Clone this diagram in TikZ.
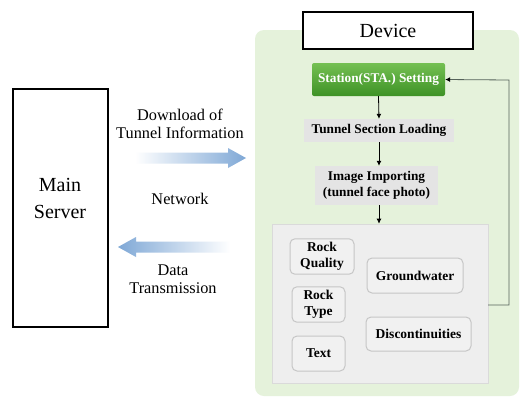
\documentclass[tikz,border=0pt]{standalone}
\usepackage{fontspec}
\setmainfont{Liberation Serif}
\usetikzlibrary{arrows.meta}
\definecolor{panelgreen}{HTML}{E5F2DB}
\definecolor{stalight}{HTML}{74C052}
\definecolor{stadark}{HTML}{3E9226}
\definecolor{stepgray}{HTML}{E4E4E4}
\definecolor{groupgray}{HTML}{EEEEEE}
\definecolor{groupedge}{HTML}{DADADA}
\definecolor{itemfill}{HTML}{F1F1F1}
\definecolor{itemedge}{HTML}{C6C6C6}
\definecolor{flowblue}{HTML}{7FA8D6}
\definecolor{loopline}{HTML}{55625A}
\tikzset{
  bigbox/.style={draw, line width=1.3pt, fill=white},
  bigtext/.style={font=\fontsize{20}{27}\selectfont, align=center},
  sidetext/.style={font=\fontsize{16.3}{18}\selectfont, align=center},
  stasty/.style={rounded corners=2pt, top color=stalight, bottom color=stadark,
    text=white, font=\bfseries\fontsize{13.3}{15}\selectfont},
  stepbox/.style={fill=stepgray, font=\bfseries\fontsize{13.3}{15.5}\selectfont, align=center},
  itembox/.style={draw=itemedge, line width=1pt, fill=itemfill, rounded corners=5pt,
    font=\bfseries\fontsize{13.5}{16.5}\selectfont, align=center},
  flow/.style={-{Latex[length=5pt,width=5pt,color=black]}, line width=0.8pt},
}
\begin{document}
\begin{tikzpicture}[x=1pt,y=-1pt]
\useasboundingbox (0,0) rectangle (520,397);
\fill[white] (0,0) rectangle (520,397);

% device panel
\fill[panelgreen, rounded corners=9pt] (255,30) rectangle (519,396);

% main server
\node[bigbox, minimum width=95pt, minimum height=238pt] (server) at (60.5,208) {};
\node[bigtext] (servertext) at (60,198) {Main\\Server};

% device title
\node[bigbox, bigtext, minimum width=170pt, minimum height=37pt] (device) at (388,30.5) {Device};

% network arrows
\shade[left color=white, right color=flowblue]
  (135,152.5) -- (228,152.5) -- (228,148) -- (246,158) -- (228,168) -- (228,163.5) -- (135,163.5) -- cycle;
\shade[left color=flowblue, right color=white]
  (230,241.5) -- (136,241.5) -- (136,237) -- (118,247) -- (136,257) -- (136,252.5) -- (230,252.5) -- cycle;
\node[sidetext] (download) at (180,123.5) {Download of\\Tunnel Information};
\node[sidetext] (network) at (180,199) {Network};
\node[sidetext] (transmit) at (173,279.5) {Data\\Transmission};

% workflow steps
\node[stasty, minimum width=133pt, minimum height=33pt] (sta) at (378.5,79.5) {Station(STA.) Setting};
\node[stepbox, minimum width=150pt, minimum height=23pt] (tunnel) at (379,130.5) {Tunnel Section Loading};
\node[stepbox, minimum width=123pt, minimum height=39pt] (image) at (376.5,185.5) {Image Importing\\(tunnel face photo)};

% results group
\node[draw=groupedge, fill=groupgray, line width=0.6pt, minimum width=216pt, minimum height=159pt] (group) at (380,303.5) {};
\node[itembox, minimum width=64pt, minimum height=35pt] (quality) at (322,256.5) {Rock\\Quality};
\node[itembox, minimum width=53pt, minimum height=35pt] (rtype) at (318.5,304.5) {Rock\\Type};
\node[itembox, minimum width=53pt, minimum height=35pt] (text) at (318.5,353.5) {Text};
\node[itembox, minimum width=96pt, minimum height=35pt] (ground) at (415,275.5) {Groundwater};
\node[itembox, minimum width=105pt, minimum height=34pt] (disc) at (418.5,334) {Discontinuities};

% connectors
\draw[flow] (sta.south) -- (tunnel.north);
\draw[flow] (tunnel.south) -- (tunnel.south |- image.north);
\draw[flow] (image.south -| tunnel.south) -- (tunnel.south |- group.north);
\coordinate (loopstart) at (488,305);
\coordinate (loopturn) at (509,80);
\draw[flow, draw=loopline] (loopstart) -| (loopturn) -- (sta.east);
\end{tikzpicture}
\end{document}
